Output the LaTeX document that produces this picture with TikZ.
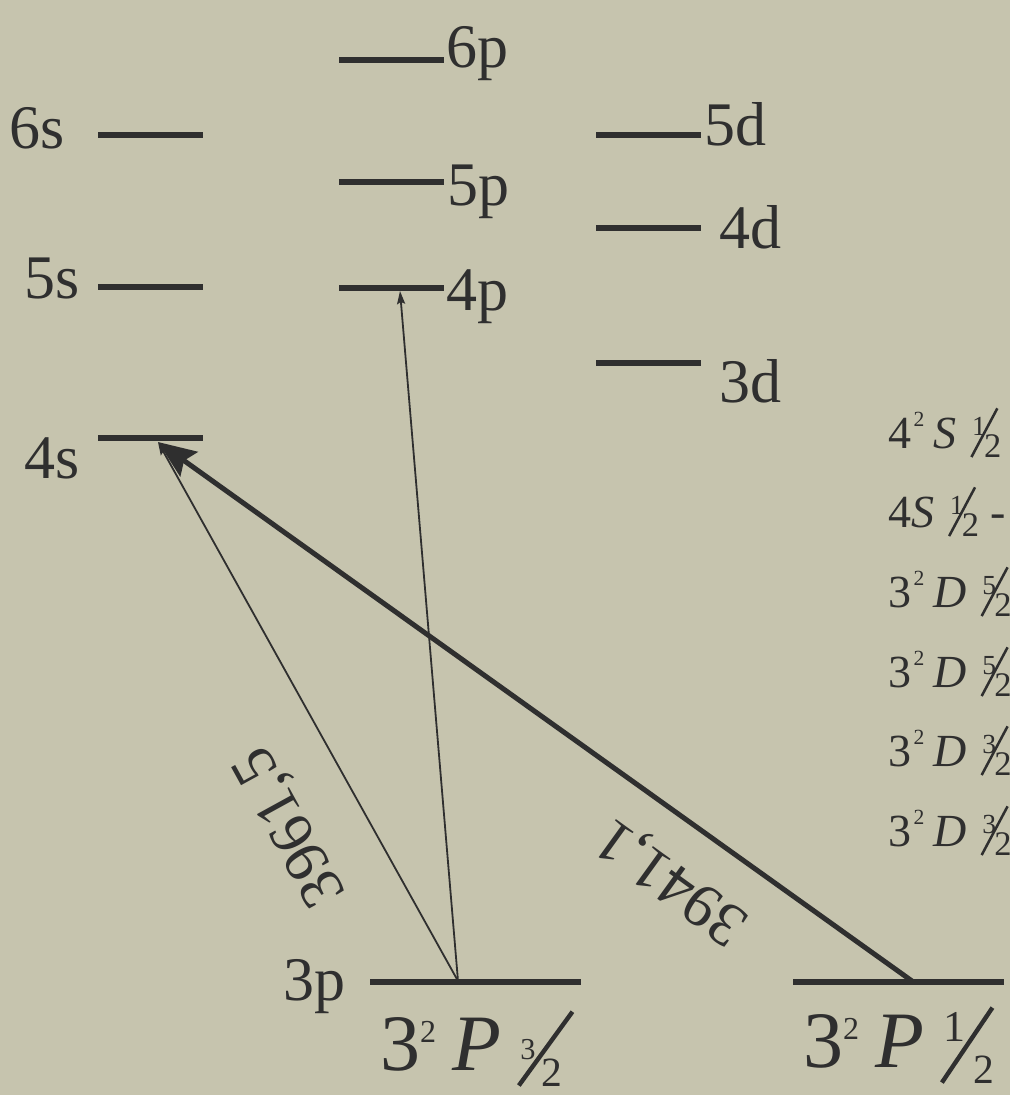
\documentclass[tikz,border=0pt]{standalone}
\usepackage{fontspec}
\setmainfont{Liberation Serif}
\usetikzlibrary{arrows.meta}
\definecolor{bg}{RGB}{198,196,174}
\definecolor{ink}{RGB}{47,47,47}
% #1 gap, #2 num raise, #3 num scale, #4 num, #5 den offset, #6 den scale, #7 den, #8 slash angle, #9 slash length
\newcommand{\fr}[9]{\kern#1\rlap{\raisebox{-0.21em}{\rotatebox{#8}{\rule{#9}{0.055em}}}}\rlap{\kern0.04em\raisebox{#2}{\scalebox{#3}{#4}}}\kern#5\raisebox{-0.21em}{\scalebox{#6}{#7}}}
\newcommand{\bigsq}{\raisebox{0.35em}{\scalebox{0.4}{2}}}
\newcommand{\sidesq}{\kern0.05em\raisebox{0.46em}{\scalebox{0.47}{2}}}
\newcommand{\sidefr}[2]{\fr{0.3em}{0.27em}{0.6}{#1}{0.3em}{0.75}{#2}{62}{1.2em}}
\tikzset{
  lvl/.style={fill=ink, inner sep=0pt, minimum height=6.5pt, minimum width=105pt},
  lab/.style={font=\fontsize{62}{62}\selectfont, text=ink, inner sep=0pt, anchor=base west},
  big/.style={font=\fontsize{80}{80}\selectfont, text=ink, inner sep=0pt, anchor=base west},
  side/.style={font=\fontsize{46}{46}\selectfont, text=ink, inner sep=0pt, anchor=base west},
  rot/.style={font=\fontsize{62}{62}\selectfont, text=ink, inner sep=0pt},
  thinarrow/.style={draw=ink, line width=1.8pt, -{Stealth[length=13pt,width=8pt,inset=2pt]}},
  thickarrow/.style={draw=ink, line width=5pt, -{Stealth[length=38pt,width=30pt,inset=6pt]}}
}
\begin{document}
\begin{tikzpicture}[x=1pt,y=-1pt]
\fill[bg] (0,0) rectangle (1010,1095);
\useasboundingbox (0,0) rectangle (1010,1095);
\clip (0,0) rectangle (1010,1095);
% s levels
\node[lvl] (s6) at (150.5,135) {};
\node[lvl] (s5) at (150.5,287) {};
\node[lvl] (s4) at (150.5,438) {};
% p levels
\node[lvl] (p6) at (391.5,60) {};
\node[lvl] (p5) at (391.5,182) {};
\node[lvl] (p4) at (391.5,288) {};
% d levels
\node[lvl] (d5) at (648.5,135) {};
\node[lvl] (d4) at (648.5,228) {};
\node[lvl] (d3) at (648.5,363) {};
% ground levels
\node[lvl, minimum width=211pt] (p3a) at (475,982) {};
\node[lvl, minimum width=211pt] (p3b) at (898.5,982) {};
% labels
\node[lab] (l6s) at (9,148) {6s};
\node[lab] (l5s) at (24,298) {5s};
\node[lab] (l4s) at (24,478) {4s};
\node[lab] (l6p) at (446,67) {6p};
\node[lab] (l5p) at (447,205) {5p};
\node[lab] (l4p) at (446,310) {4p};
\node[lab] (l5d) at (704,145) {5d};
\node[lab] (l4d) at (719,248) {4d};
\node[lab] (l3d) at (719,402) {3d};
\node[lab] (l3p) at (283,1000) {3p};
\node[big] (g1) at (380,1070) {3\bigsq\kern0.2em\textit{P}\fr{0.2em}{0.13em}{0.38}{3}{0.3em}{0.52}{2}{54}{1.14em}};
\node[big] (g2) at (803,1067) {3\bigsq\kern0.2em\textit{P}\fr{0.2em}{0.32em}{0.55}{1}{0.42em}{0.52}{2}{56}{1.13em}};
% side list
\node[side] (r1) at (888,448) {4\sidesq\kern0.2em\textit{S}\sidefr{1}{2}};
\node[side] (r2) at (888,527) {4\textit{S}\sidefr{1}{2} -};
\node[side] (r3) at (888,607) {3\sidesq\kern0.2em\textit{D}\sidefr{5}{2}};
\node[side] (r4) at (888,687) {3\sidesq\kern0.2em\textit{D}\sidefr{5}{2}};
\node[side] (r5) at (888,766) {3\sidesq\kern0.2em\textit{D}\sidefr{3}{2}};
\node[side] (r6) at (888,846) {3\sidesq\kern0.2em\textit{D}\sidefr{3}{2}};
% transitions
\coordinate (a1) at (458,981);
\coordinate (a2) at (912,981);
\coordinate (t4s) at (158,442);
\coordinate (t4p) at (400,291);
\draw[thinarrow] (a1) -- (t4s);
\draw[thinarrow] (a1) -- (t4p);
\draw[thickarrow] (a2) -- (t4s);
\node[rot, rotate=118.8] (w1) at (292,826) {3961,5};
\node[rot, rotate=144.2] (w2) at (673,880) {3941,1};
\end{tikzpicture}
\end{document}
